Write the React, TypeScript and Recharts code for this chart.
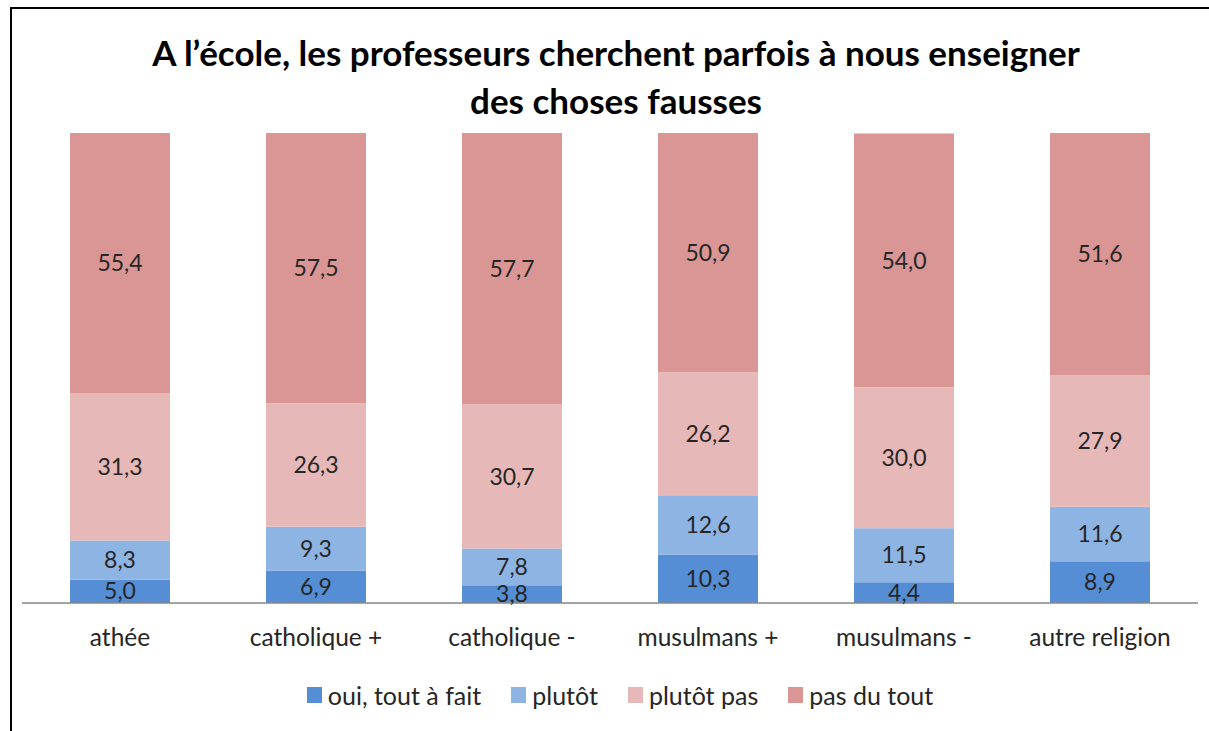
import React from "react";
import { BarChart, Bar, XAxis, YAxis, LabelList } from "recharts";

const categories = ["athée", "catholique +", "catholique -", "musulmans +", "musulmans -", "autre religion"];
const ouiToutAFait = [5.0, 6.9, 3.8, 10.3, 4.4, 8.9];
const plutot = [8.3, 9.3, 7.8, 12.6, 11.5, 11.6];
const plutotPas = [31.3, 26.3, 30.7, 26.2, 30.0, 27.9];
const pasDuTout = [55.4, 57.5, 57.7, 50.9, 54.0, 51.6];

const series = [
  { key: "oui", name: "oui, tout à fait", color: "#558ED5" },
  { key: "plutot", name: "plutôt", color: "#8EB4E3" },
  { key: "plutotPas", name: "plutôt pas", color: "#E6B9B8" },
  { key: "pasDuTout", name: "pas du tout", color: "#D99694" },
];

const data = categories.map((name, i) => ({
  name,
  oui: ouiToutAFait[i],
  plutot: plutot[i],
  plutotPas: plutotPas[i],
  pasDuTout: pasDuTout[i],
}));

const FONT = "Lato, 'Open Sans', sans-serif";
const fmt = (v: any) => Number(v).toFixed(1).replace(".", ",");

export default function App() {
  return (
    <div style={{ position: "absolute", left: 0, top: 0, width: 1209, height: 731, background: "#fff", overflow: "hidden" }}>
      <svg width={1209} height={731} style={{ position: "absolute", left: 0, top: 0 }}>
        <line x1={11} y1={8} x2={1209} y2={8} stroke="#000" strokeWidth={2} />
        <line x1={11} y1={7} x2={11} y2={731} stroke="#000" strokeWidth={2} />
      </svg>
      <div
        style={{
          position: "absolute",
          left: 0,
          width: 1209,
          paddingLeft: 23,
          boxSizing: "border-box",
          top: 28,
          textAlign: "center",
          fontFamily: FONT,
          fontWeight: 700,
          fontSize: 35,
          lineHeight: "48px",
          color: "#000",
        }}
      >
        A l’école, les professeurs cherchent parfois à nous enseigner
        <br />
        des choses fausses
      </div>
      <BarChart
        width={1209}
        height={731}
        data={data}
        margin={{ top: 133, right: 11, left: 22, bottom: 0 }}
        style={{ position: "absolute", left: 0, top: 0 }}
      >
        <XAxis
          dataKey="name"
          height={128}
          axisLine={{ stroke: "#868686", strokeWidth: 1.5 }}
          tickLine={false}
          tickMargin={20}
          tick={{ fill: "#262626", fontSize: 24.5, fontFamily: FONT }}
          interval={0}
        />
        <YAxis hide domain={[0, 100]} />
        {series.map((s) => (
          <Bar key={s.key} dataKey={s.key} name={s.name} stackId="a" fill={s.color} barSize={100} isAnimationActive={false}>
            <LabelList
              dataKey={s.key}
              position="center"
              formatter={fmt}
              style={{ fill: "#262626", fontSize: 23, fontFamily: FONT }}
            />
          </Bar>
        ))}
      </BarChart>
      <div
        style={{
          position: "absolute",
          left: 0,
          width: 1209,
          top: 680,
          display: "flex",
          justifyContent: "center",
          paddingLeft: 31,
          boxSizing: "border-box",
          fontFamily: FONT,
          fontSize: 25,
          lineHeight: "30px",
          color: "#262626",
        }}
      >
        {series.map((s, i) => (
          <div key={s.key} style={{ display: "flex", alignItems: "center", marginRight: i < series.length - 1 ? 30 : 0 }}>
            <span style={{ width: 15, height: 16, background: s.color, display: "inline-block", marginRight: 6 }} />
            <span>{s.name}</span>
          </div>
        ))}
      </div>
    </div>
  );
}
